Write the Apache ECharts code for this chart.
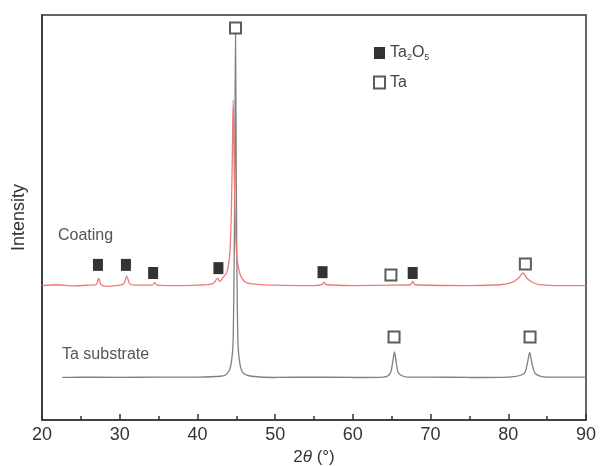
<!DOCTYPE html>
<html>
<head>
<meta charset="utf-8">
<script src="https://cdn.jsdelivr.net/npm/echarts@6/dist/echarts.min.js"></script>
<style>
  html, body { margin: 0; padding: 0; background: #fff; }
  #chart { width: 602px; height: 466px; }
</style>
</head>
<body>
<div id="chart"></div>
<script>
// 2theta / intensity pairs (arbitrary intensity units, 0-100)
var substrate = [
  [22.6, 10.5], [25, 10.6], [30, 10.5], [35, 10.6], [40, 10.6], [43, 10.8],
  [43.8, 11.4], [44.3, 13.5], [44.6, 20], [44.8, 60], [44.9, 95.8], [45.0, 60],
  [45.2, 20], [45.5, 13.5], [46, 11.4], [47, 10.8], [50, 10.5], [55, 10.6],
  [60, 10.5], [64, 10.6], [64.8, 11.5], [65.1, 14], [65.35, 16.8], [65.6, 14],
  [65.9, 11.5], [67, 10.6], [70, 10.6], [75, 10.5], [80, 10.6], [82.0, 11.4],
  [82.45, 14], [82.75, 16.6], [83.05, 14], [83.5, 11.4], [85, 10.6], [90, 10.6]
];
var coating = [
  [20, 33.2], [22, 33.4], [24, 33.1], [26, 33.3], [27.0, 33.5], [27.3, 35],
  [27.6, 33.4], [28.3, 33.0], [29.5, 33.2], [30.5, 33.6], [30.9, 35.5], [31.3, 33.6],
  [32, 33.3], [34.2, 33.3], [34.5, 33.9], [34.8, 33.3], [37, 33.2], [40, 33.3],
  [42, 33.7], [42.6, 35], [42.9, 34.2], [43.3, 35.2], [43.8, 36.5], [44.2, 42],
  [44.45, 60], [44.6, 79], [44.75, 60], [45.0, 42], [45.4, 36.5], [46.0, 34.3],
  [47, 33.6], [50, 33.3], [55, 33.2], [56, 33.4], [56.3, 34], [56.6, 33.4],
  [60, 33.2], [65, 33.3], [67.4, 33.4], [67.7, 34.2], [68, 33.4], [75, 33.2],
  [79, 33.4], [80.5, 34], [81.3, 35], [81.9, 36.3], [82.4, 35], [83.2, 33.9],
  [84, 33.4], [86, 33.2], [90, 33.2]
];
// phase markers
var ta2o5Marks = [[27.2, 38.3], [30.8, 38.3], [34.3, 36.3], [42.7, 37.5], [56.1, 36.5], [67.7, 36.3]];
var taMarks = [[44.9, 96.8], [64.9, 35.8], [82.2, 38.5], [65.3, 20.5], [82.8, 20.5]];
var xTicks = [20, 30, 40, 50, 60, 70, 80, 90];

var chart = echarts.init(document.getElementById('chart'));
var font = 'Liberation Sans, Arial, sans-serif';

var option = {
  backgroundColor: '#fff',
  animation: false,
  textStyle: { fontFamily: font },
  grid: {
    left: 42, right: 16, top: 15, bottom: 46,
    outerBoundsMode: 'none',
    show: true, borderColor: '#333', borderWidth: 1.5
  },
  legend: {
    orient: 'vertical',
    left: 368, top: 40,
    itemWidth: 11, itemHeight: 12, itemGap: 12,
    icon: 'rect',
    data: ['Ta2O5', 'Ta'],
    formatter: function (name) {
      if (name === 'Ta2O5') return '{n|Ta}{s|2}{n|O}{s|5}';
      return '{n|Ta}';
    },
    textStyle: {
      color: '#444',
      rich: {
        n: { fontSize: 16, color: '#444', fontFamily: font },
        s: { fontSize: 9, color: '#444', padding: [10, 0, 0, 0], fontFamily: font }
      }
    }
  },
  xAxis: {
    type: 'value',
    min: xTicks[0], max: xTicks[xTicks.length - 1], interval: 10,
    name: '{a|2}{b|θ}{a| (°)}',
    nameLocation: 'middle', nameGap: 28,
    nameTextStyle: {
      rich: {
        a: { fontSize: 17, color: '#333', fontFamily: font },
        b: { fontSize: 17, color: '#333', fontStyle: 'italic', fontFamily: font }
      }
    },
    axisLine: { lineStyle: { color: '#333', width: 1.5 } },
    axisTick: { inside: true, length: 6, lineStyle: { color: '#333', width: 1.5 } },
    minorTick: { show: true, splitNumber: 2, length: 4, lineStyle: { color: '#333', width: 1.5 } },
    axisLabel: { fontSize: 18, color: '#333', margin: 6 },
    splitLine: { show: false }
  },
  yAxis: {
    type: 'value', min: 0, max: 100,
    name: 'Intensity',
    nameLocation: 'middle', nameGap: 14,
    nameTextStyle: { fontSize: 18, color: '#333' },
    axisLine: { show: true, lineStyle: { color: '#333', width: 1.5 } },
    axisTick: { show: false },
    axisLabel: { show: false },
    splitLine: { show: false }
  },
  graphic: [
    { type: 'text', left: 58, top: 228, style: { text: 'Coating', fontSize: 16, fill: '#555', fontFamily: font } },
    { type: 'text', left: 62, top: 347, style: { text: 'Ta substrate', fontSize: 16, fill: '#555', fontFamily: font } }
  ],
  series: [
    {
      name: 'substrate', type: 'line', data: substrate,
      showSymbol: false, smooth: 0.3,
      lineStyle: { color: '#808080', width: 1.3 }, z: 2
    },
    {
      name: 'coating', type: 'line', data: coating,
      showSymbol: false, smooth: 0.3,
      lineStyle: { color: '#ee7b78', width: 1.3 }, z: 3
    },
    {
      name: 'Ta2O5', type: 'scatter', data: ta2o5Marks,
      symbol: 'rect', symbolSize: [10, 12],
      itemStyle: { color: '#000' }, z: 5
    },
    {
      name: 'Ta', type: 'scatter', data: taMarks,
      symbol: 'rect', symbolSize: 11,
      itemStyle: { color: '#fff', borderColor: '#333', borderWidth: 2 }, z: 5
    }
  ]
};

chart.setOption(option);
</script>
</body>
</html>
